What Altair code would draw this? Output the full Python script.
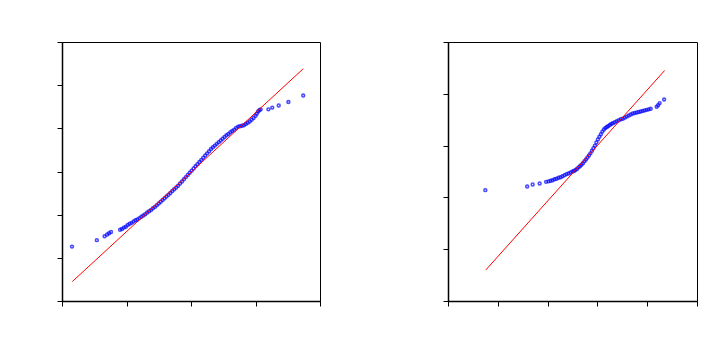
import altair as alt
import pandas as pd

# ---- Left panel data (theoretical quantile vs sample quantile) ----
left_x = [0.155, 0.54, 0.66, 0.70, 0.73, 0.76,
          0.90, 0.93, 0.96, 0.99, 1.02, 1.05, 1.08, 1.11, 1.14, 1.17, 1.20, 1.23,
          1.26, 1.29, 1.32, 1.35, 1.38, 1.41, 1.44, 1.47, 1.50, 1.53, 1.56, 1.59,
          1.62, 1.65, 1.68, 1.71, 1.74, 1.77, 1.80, 1.83, 1.86, 1.89, 1.92, 1.95,
          1.98, 2.01, 2.04, 2.07, 2.10, 2.13, 2.16, 2.19, 2.22, 2.25, 2.28, 2.31,
          2.34, 2.37, 2.40, 2.43, 2.46, 2.49, 2.52, 2.55, 2.58, 2.61, 2.64, 2.67,
          2.70, 2.73, 2.76, 2.79, 2.82, 2.85, 2.88, 2.91, 2.94, 2.97, 3.00, 3.02,
          3.04, 3.06, 3.08,
          3.20, 3.26, 3.36, 3.51, 3.74]
left_y = [1.26, 1.41, 1.50, 1.54, 1.57, 1.60,
          1.65, 1.67, 1.70, 1.72, 1.76, 1.79, 1.81, 1.84, 1.87, 1.89, 1.92, 1.95,
          1.98, 2.01, 2.05, 2.08, 2.11, 2.15, 2.18, 2.22, 2.26, 2.30, 2.34, 2.38,
          2.42, 2.46, 2.50, 2.55, 2.59, 2.63, 2.67, 2.72, 2.77, 2.82, 2.87, 2.92,
          2.97, 3.02, 3.07, 3.12, 3.17, 3.22, 3.27, 3.32, 3.37, 3.42, 3.47, 3.52,
          3.56, 3.60, 3.64, 3.68, 3.72, 3.76, 3.80, 3.84, 3.87, 3.91, 3.94, 3.97,
          4.01, 4.04, 4.05, 4.06, 4.07, 4.10, 4.13, 4.16, 4.20, 4.24, 4.29, 4.34,
          4.39, 4.42, 4.44,
          4.44, 4.48, 4.53, 4.61, 4.76]
left_line_x = [0.16, 3.74]
left_line_y = [0.45, 5.38]

# ---- Right panel data ----
right_x = [0.75, 1.59, 1.70, 1.84, 1.97, 2.02,
           2.06, 2.10, 2.14, 2.18, 2.22, 2.26, 2.30, 2.34, 2.38, 2.42, 2.46, 2.50,
           2.53, 2.56, 2.59, 2.62, 2.65, 2.68, 2.71, 2.74, 2.77, 2.80, 2.83, 2.86,
           2.89, 2.92, 2.95, 2.98, 3.01, 3.04, 3.07, 3.10, 3.13, 3.16, 3.19, 3.22,
           3.25, 3.28, 3.31, 3.35, 3.39, 3.43, 3.47, 3.51, 3.55, 3.59, 3.63, 3.67,
           3.71, 3.75, 3.79, 3.83, 3.87, 3.91, 3.95, 3.99, 4.03, 4.07,
           4.19, 4.22, 4.25, 4.34]
right_y = [2.14, 2.21, 2.25, 2.27, 2.30, 2.31,
           2.32, 2.33, 2.35, 2.36, 2.38, 2.39, 2.41, 2.43, 2.45, 2.46, 2.48, 2.50,
           2.51, 2.53, 2.55, 2.58, 2.60, 2.63, 2.66, 2.70, 2.73, 2.77, 2.81, 2.85,
           2.90, 2.95, 3.00, 3.06, 3.12, 3.17, 3.22, 3.27, 3.31, 3.34, 3.36, 3.38,
           3.40, 3.42, 3.43, 3.45, 3.47, 3.49, 3.51, 3.52, 3.54, 3.56, 3.58, 3.60,
           3.62, 3.63, 3.64, 3.65, 3.66, 3.67, 3.68, 3.69, 3.70, 3.71,
           3.75, 3.78, 3.82, 3.89]
right_line_x = [0.76, 4.35]
right_line_y = [0.60, 4.45]


def panel(px, py, lx, ly, xdom, ydom, w, h):
    pts = pd.DataFrame({"x": px, "y": py})
    ln = pd.DataFrame({"x": lx, "y": ly})
    xs = alt.Scale(domain=xdom, nice=False, zero=False)
    ys = alt.Scale(domain=ydom, nice=False, zero=False)
    common = dict(labels=False, title=None, grid=False, ticks=True, tickSize=5,
                  tickColor="black", domainColor="black", domainWidth=1.5,
                  tickWidth=1)
    xa = alt.Axis(values=list(range(xdom[0], xdom[1] + 1)), **common)
    ya = alt.Axis(values=list(range(ydom[0], ydom[1] + 1)), **common)
    points = alt.Chart(pts).mark_point(
        shape="circle", filled=False, color="#0000ff", size=8, strokeWidth=1.6
    ).encode(
        x=alt.X("x:Q", scale=xs, axis=xa),
        y=alt.Y("y:Q", scale=ys, axis=ya),
    )
    line = alt.Chart(ln).mark_line(color="#ff0000", strokeWidth=1).encode(
        x=alt.X("x:Q"),
        y=alt.Y("y:Q"),
    )
    return alt.layer(points, line).properties(width=w, height=h)


left = panel(left_x, left_y, left_line_x, left_line_y, [0, 4], [0, 6], 258, 259)
right = panel(right_x, right_y, right_line_x, right_line_y, [0, 5], [0, 5], 249, 259)

chart = alt.hconcat(left, right, spacing=121).properties(
    padding={"left": 56, "top": 41, "right": 0, "bottom": 0},
    background="white",
).configure_view(stroke="black", strokeWidth=1)

chart.save("out.html", embed_options={"renderer": "svg", "actions": False})
